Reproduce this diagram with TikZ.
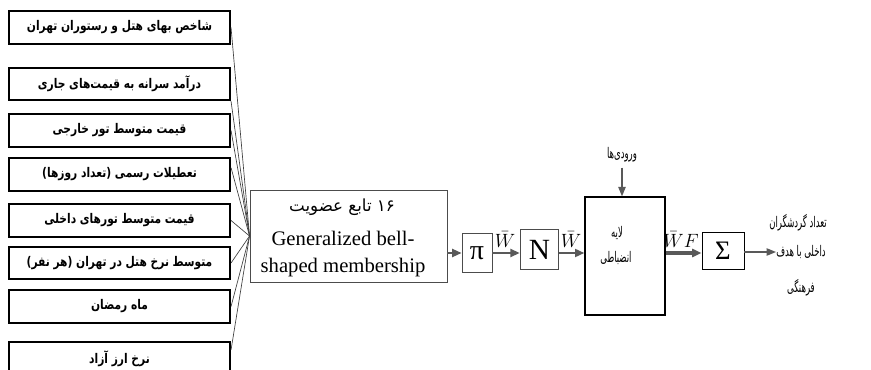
\documentclass[tikz,border=0pt]{standalone}
\usepackage{fontspec}
\setmainfont{Liberation Serif}
\newfontfamily\fa[Script=Arabic]{DejaVu Sans}
\newfontfamily\fan[Script=Arabic,FakeStretch=0.58]{DejaVu Sans}
\newfontfamily\fab[Script=Arabic,FakeStretch=0.8]{DejaVu Sans Bold}
\TeXXeTstate=1
\usetikzlibrary{arrows.meta,calc}
\begin{document}
\begin{tikzpicture}[x=0.75pt,y=-0.75pt,
  inbox/.style={draw=black, line width=1.3pt, minimum width=166pt, minimum height=24.5pt, inner sep=0pt, font=\fab\fontsize{10}{12}\selectfont},
  blk/.style={draw=black!70, line width=0.7pt, inner sep=0pt},
  conn/.style={draw=black!75, line width=0.5pt},
  arr/.style={draw=black!65, line width=1.5pt, -{Triangle[length=7pt,width=6pt]}},
  thinarr/.style={draw=black!65, line width=0.9pt, -{Triangle[length=7pt,width=5.5pt]}},
  fatext/.style={font=\fan\fontsize{11}{13}\selectfont, inner sep=0pt},
  lbl/.style={font=\fontsize{14}{16}\selectfont, inner sep=0pt}]
\clip (0,0) rectangle (871,370);
\fill[white] (0,0) rectangle (871,370);
% input boxes
\node[inbox] (i1) at (119.5,27.5) {\beginR شاخص بهای هتل و رستوران تهران\endR};
\node[inbox] (i2) at (119.5,84) {\beginR درآمد سرانه به قیمت‌های جاری\endR};
\node[inbox] (i3) at (119.5,130.5) {\beginR قیمت متوسط تور خارجی\endR};
\node[inbox] (i4) at (119.5,174.5) {\beginR تعطیلات رسمی (تعداد روزها)\endR};
\node[inbox] (i5) at (119.5,220.5) {\beginR قیمت متوسط تورهای داخلی\endR};
\node[inbox] (i6) at (119.5,263) {\beginR متوسط نرخ هتل در تهران (هر نفر)\endR};
\node[inbox] (i7) at (119.5,306.5) {\beginR ماه رمضان\endR};
\node[inbox] (i8) at (119.5,358.5) {\beginR نرخ ارز آزاد\endR};
% membership box
\node[blk, minimum width=147.75pt, minimum height=69pt] (mf) at (348.5,236) {};
\node[inner sep=0pt, font=\fa\fontsize{12.5}{14}\selectfont] (mft) at (342,207) {\beginR ۱۶ تابع عضویت\endR};
\node[font=\fontsize{15.5}{20}\selectfont, align=center, inner sep=0pt] (mfe) at (343,254) {Generalized bell-\\shaped membership};
% connectors
\foreach \i in {1,3,5,6,7} {\draw[conn] (i\i.east) -- (mf.west);}
\draw[conn] (i2.south east) -- (mf.west);
\draw[conn] ($(i4.north east)!0.3!(i4.south east)$) -- (mf.west);
\draw[conn] ($(i8.north east)!0.25!(i8.south east)$) -- (mf.west);
% pi, N, layer, sigma
\node[blk, minimum width=22.5pt, minimum height=29pt, font=\fontsize{21}{22}\selectfont] (pi) at (477,253) {π};
\node[blk, minimum width=29pt, minimum height=30pt, font=\fontsize{22}{24}\selectfont] (N) at (539.5,249.5) {N};
\node[draw=black, line width=1pt, minimum width=60pt, minimum height=88.5pt] (L) at (625,256) {};
\node[fatext] (l1) at (617,233) {\beginR لایه\endR};
\node[fatext] (l2) at (616,258) {\beginR انضباطی\endR};
\node[draw=black, line width=0.7pt, minimum width=31.5pt, minimum height=27.75pt, inner sep=0pt, font=\fontsize{20}{22}\selectfont] (S) at (723,250.5) {Σ};
\node[fatext] (inp) at (622,155) {\beginR ورودی‌ها\endR};
\node[fatext] (r1) at (798,223) {\beginR تعداد گردشگران\endR};
\node[fatext] (r2) at (801,252) {\beginR داخلی با هدف\endR};
\node[fatext] (r3) at (801,288) {\beginR فرهنگی\endR};
% arrows
\draw[arr] (pi.west -| mf.east) -- (pi.west);
\draw[arr] (pi.east) -- (pi.east -| N.west);
\draw[arr] (pi.east -| N.east) -- (pi.east -| L.west);
\draw[arr, line width=2.6pt] (pi.east -| L.east) -- (pi.east -| S.west);
\draw[thinarr] (S.east |- r2.west) -- (r2.west);
\draw[thinarr] ($(inp.south)+(0,5)$) -- (inp.south |- L.north);
% labels
\node[lbl] (w1) at (505,240) {$\bar{W}$};
\node[lbl] (w2) at (571,240) {$\bar{W}$};
\node[lbl] (w3) at (681,240) {$\bar{W}F$};
\end{tikzpicture}
\end{document}
